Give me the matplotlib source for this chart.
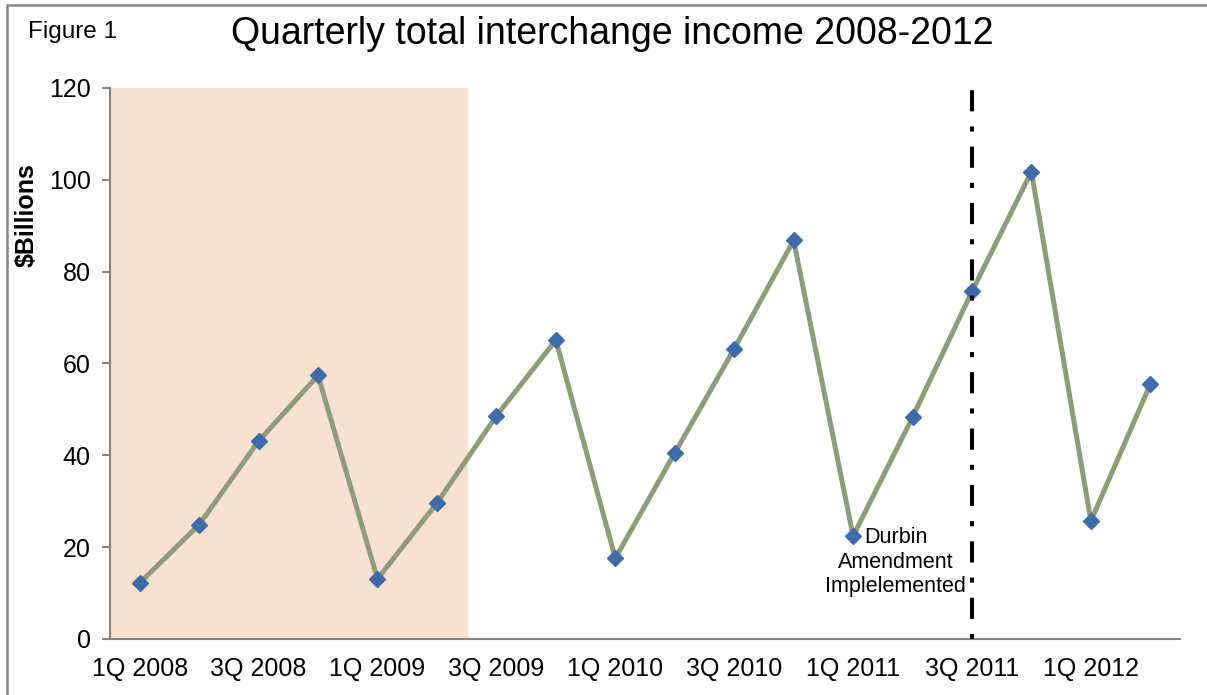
import matplotlib.pyplot as plt
from matplotlib.patches import Rectangle

plt.rcParams['font.family'] = ['Liberation Sans', 'DejaVu Sans']

quarters = ['1Q 2008', '2Q 2008', '3Q 2008', '4Q 2008',
            '1Q 2009', '2Q 2009', '3Q 2009', '4Q 2009',
            '1Q 2010', '2Q 2010', '3Q 2010', '4Q 2010',
            '1Q 2011', '2Q 2011', '3Q 2011', '4Q 2011',
            '1Q 2012', '2Q 2012']
income = [12.2, 24.9, 43.1, 57.4, 13.1, 29.6, 48.6, 65.1, 17.6,
          40.5, 63.2, 86.8, 22.4, 48.3, 75.7, 101.8, 25.7, 55.5]
recession_quarters = 6      # 1Q 2008 .. 2Q 2009 shaded
durbin_index = 14           # 3Q 2011

fig = plt.figure(figsize=(12.07, 6.95), dpi=100)
ax = fig.add_axes([0.0911, 0.0806, 0.8866, 0.7928])

x = list(range(len(quarters)))
ax.axvspan(-0.5, -0.5 + recession_quarters, color='#FAE1D0', zorder=0)
ax.plot(x, income, color='#8E9D78', lw=3.6, zorder=2,
        marker='D', markersize=8, markerfacecolor='#3F6CA8', markeredgecolor='#3F6CA8')
ax.axvline(durbin_index, ymin=0, ymax=1, color='black', lw=2.9,
           linestyle=(0, (1.25, 3.75, 5.25, 3.75)), zorder=3)

ax.text(12.72, 24.3, 'Durbin\nAmendment\nImplelemented', ha='center', va='top',
        fontsize=15.5, linespacing=1.2, zorder=4)

ax.set_xlim(-0.5, len(quarters) - 0.5)
ax.set_ylim(0, 120)
ax.set_yticks(range(0, 121, 20))
ax.set_xticks(x[::2])
ax.set_xticklabels(quarters[::2])
ax.tick_params(axis='both', labelsize=18, colors='#868686', labelcolor='black')
ax.tick_params(axis='x', length=0, pad=13)
ax.tick_params(axis='y', length=6, width=1.5, pad=8)

for side in ['top', 'right']:
    ax.spines[side].set_visible(False)
for side in ['left', 'bottom']:
    ax.spines[side].set_color('#868686')
    ax.spines[side].set_linewidth(1.5)

fig.text(27 / 1207, 1 - 215 / 695, '$Billions', rotation=90, ha='center', va='center',
         fontsize=18, fontweight='bold')
fig.text(612 / 1207, 1 - 34 / 695, 'Quarterly total interchange income 2008-2012',
         ha='center', va='center', fontsize=27)
fig.text(28 / 1207, 1 - 32 / 695, 'Figure 1', ha='left', va='center', fontsize=17.5)

fig.patches.append(Rectangle((6.5 / 1207, -0.01), 1.05, 1 - 4.5 / 695 + 0.01,
                             transform=fig.transFigure, fill=False,
                             edgecolor='#868686', lw=1.8))

fig.savefig('out.png', dpi=100)
